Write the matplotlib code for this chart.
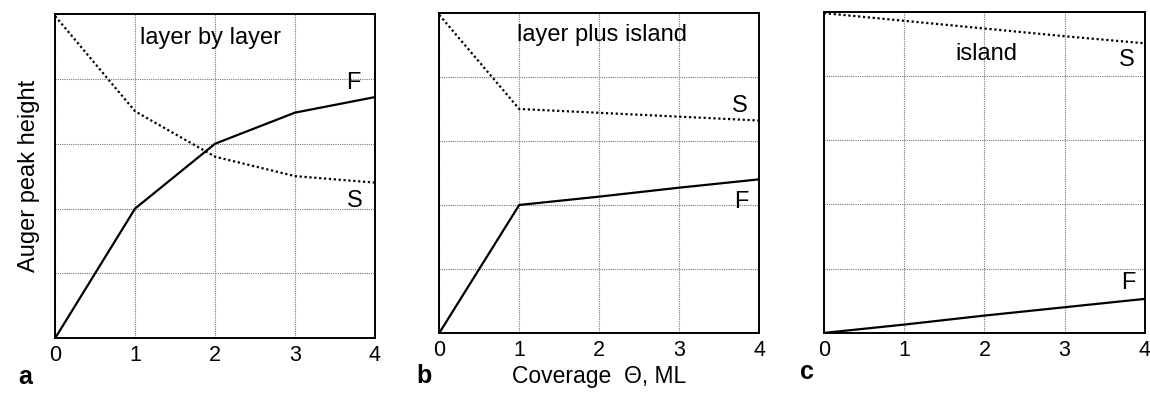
import numpy as np
import matplotlib.pyplot as plt

plt.rcParams['font.family'] = ['Liberation Sans', 'DejaVu Sans']

# coverage in monolayers
cov = [0, 1, 2, 3, 4]

# a: layer by layer growth
F_a = [0, 2.0, 3.0, 3.48, 3.72]
S_a = [4.97, 3.5, 2.8, 2.5, 2.4]
# b: layer plus island
F_b = [0, 2.0, 2.13, 2.27, 2.40]
S_b = [4.97, 3.5, 3.44, 3.38, 3.32]
# c: island growth
F_c = [0, 0.13, 0.27, 0.40, 0.53]
S_c = [4.98, 4.86, 4.74, 4.62, 4.51]

titles = ['layer by layer', 'layer plus island', 'island']
F_all = [F_a, F_b, F_c]
S_all = [S_a, S_b, S_c]

# label positions (x, y) for the F and S tags
F_pos = [(3.73, 3.94), (3.78, 2.05), (3.8, 0.78)]
S_pos = [(3.75, 2.12), (3.76, 3.55), (3.77, 4.25)]
title_pos = [(1.94, 4.64), (2.03, 4.66), (2.03, 4.35)]

fig = plt.figure(figsize=(11.5, 3.94), dpi=100)
boxes = [[0.048, 0.142, 0.278, 0.822],
         [0.382, 0.155, 0.278, 0.812],
         [0.7165, 0.155, 0.279, 0.815]]

for i in range(3):
    ax = fig.add_axes(boxes[i])
    ax.plot(cov, F_all[i], color='black', lw=1.6, solid_joinstyle='miter')
    ax.plot(cov, S_all[i], color='black', lw=1.6, linestyle=(0, (1, 1.2)))
    ax.set_xlim(0, 4)
    ax.set_ylim(0, 5)
    ax.set_xticks(cov)
    ax.set_yticks([1, 2, 3, 4])
    ax.set_yticklabels([])
    ax.tick_params(length=0, labelsize=15.5, pad=5)
    ax.grid(True, color='#777777', linestyle=(0, (1, 1)), lw=0.8)
    for s in ax.spines.values():
        s.set_linewidth(1.4)
    ax.text(F_pos[i][0], F_pos[i][1], 'F', fontsize=17, ha='center', va='center')
    ax.text(S_pos[i][0], S_pos[i][1], 'S', fontsize=17, ha='center', va='center')
    ax.text(title_pos[i][0], title_pos[i][1], titles[i], fontsize=17,
            ha='center', va='center')
    if i == 0:
        ax.set_ylabel('Auger peak height', fontsize=17, labelpad=6)
    if i == 1:
        ax.set_xlabel('Coverage  \u0398, ML', fontsize=16.5, labelpad=3)

fig.text(0.016, 0.042, 'a', fontsize=18, fontweight='bold', va='center')
fig.text(0.362, 0.045, 'b', fontsize=18, fontweight='bold', va='center')
fig.text(0.696, 0.055, 'c', fontsize=18, fontweight='bold', va='center')

fig.savefig('out.png', dpi=100)
